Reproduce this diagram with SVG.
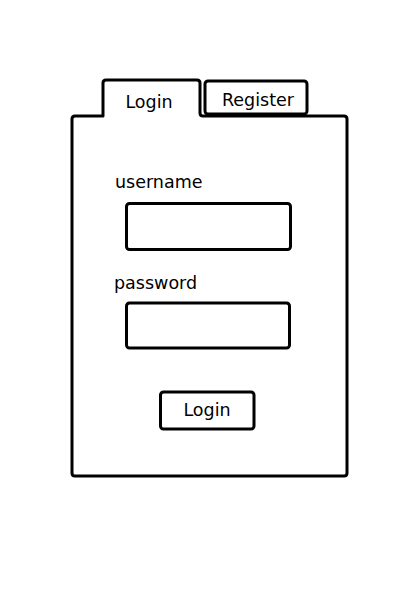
<svg xmlns="http://www.w3.org/2000/svg" width="420" height="595" viewBox="0 0 420 595">
<style>
.s{fill:#fff;stroke:#000;stroke-width:3;stroke-linejoin:round;stroke-linecap:round}
.t{font-family:"DejaVu Sans",Verdana,sans-serif;font-size:17.5px;fill:#000}
</style>
<rect width="420" height="595" fill="#fff"/>
<g id="panel">
<path class="s" d="M103,116 L103,83 Q103,80 106,80 L197,80 Q200,80 200,83 L200,113 Q200,116 203,116 L344,116 Q347,116 347,119 L347,473 Q347,476 344,476 L75,476 Q72,476 72,473 L72,119 Q72,116 75,116 Z"/>
</g>
<g id="tab-login">
<text class="t" x="149" y="108" text-anchor="middle">Login</text>
</g>
<g id="tab-register">
<rect class="s" x="205" y="81" width="102" height="33" rx="3"/>
<text class="t" x="258" y="106" text-anchor="middle">Register</text>
</g>
<g id="username">
<text class="t" x="115" y="188">username</text>
<rect class="s" x="126.5" y="203.5" width="164" height="46" rx="3"/>
</g>
<g id="password">
<text class="t" x="114" y="289">password</text>
<rect class="s" x="126.5" y="303" width="163" height="45" rx="3"/>
</g>
<g id="login-button">
<rect class="s" x="160.5" y="392" width="93.5" height="37" rx="3"/>
<text class="t" x="207" y="416" text-anchor="middle">Login</text>
</g>
<g id="connectors"/>
</svg>
